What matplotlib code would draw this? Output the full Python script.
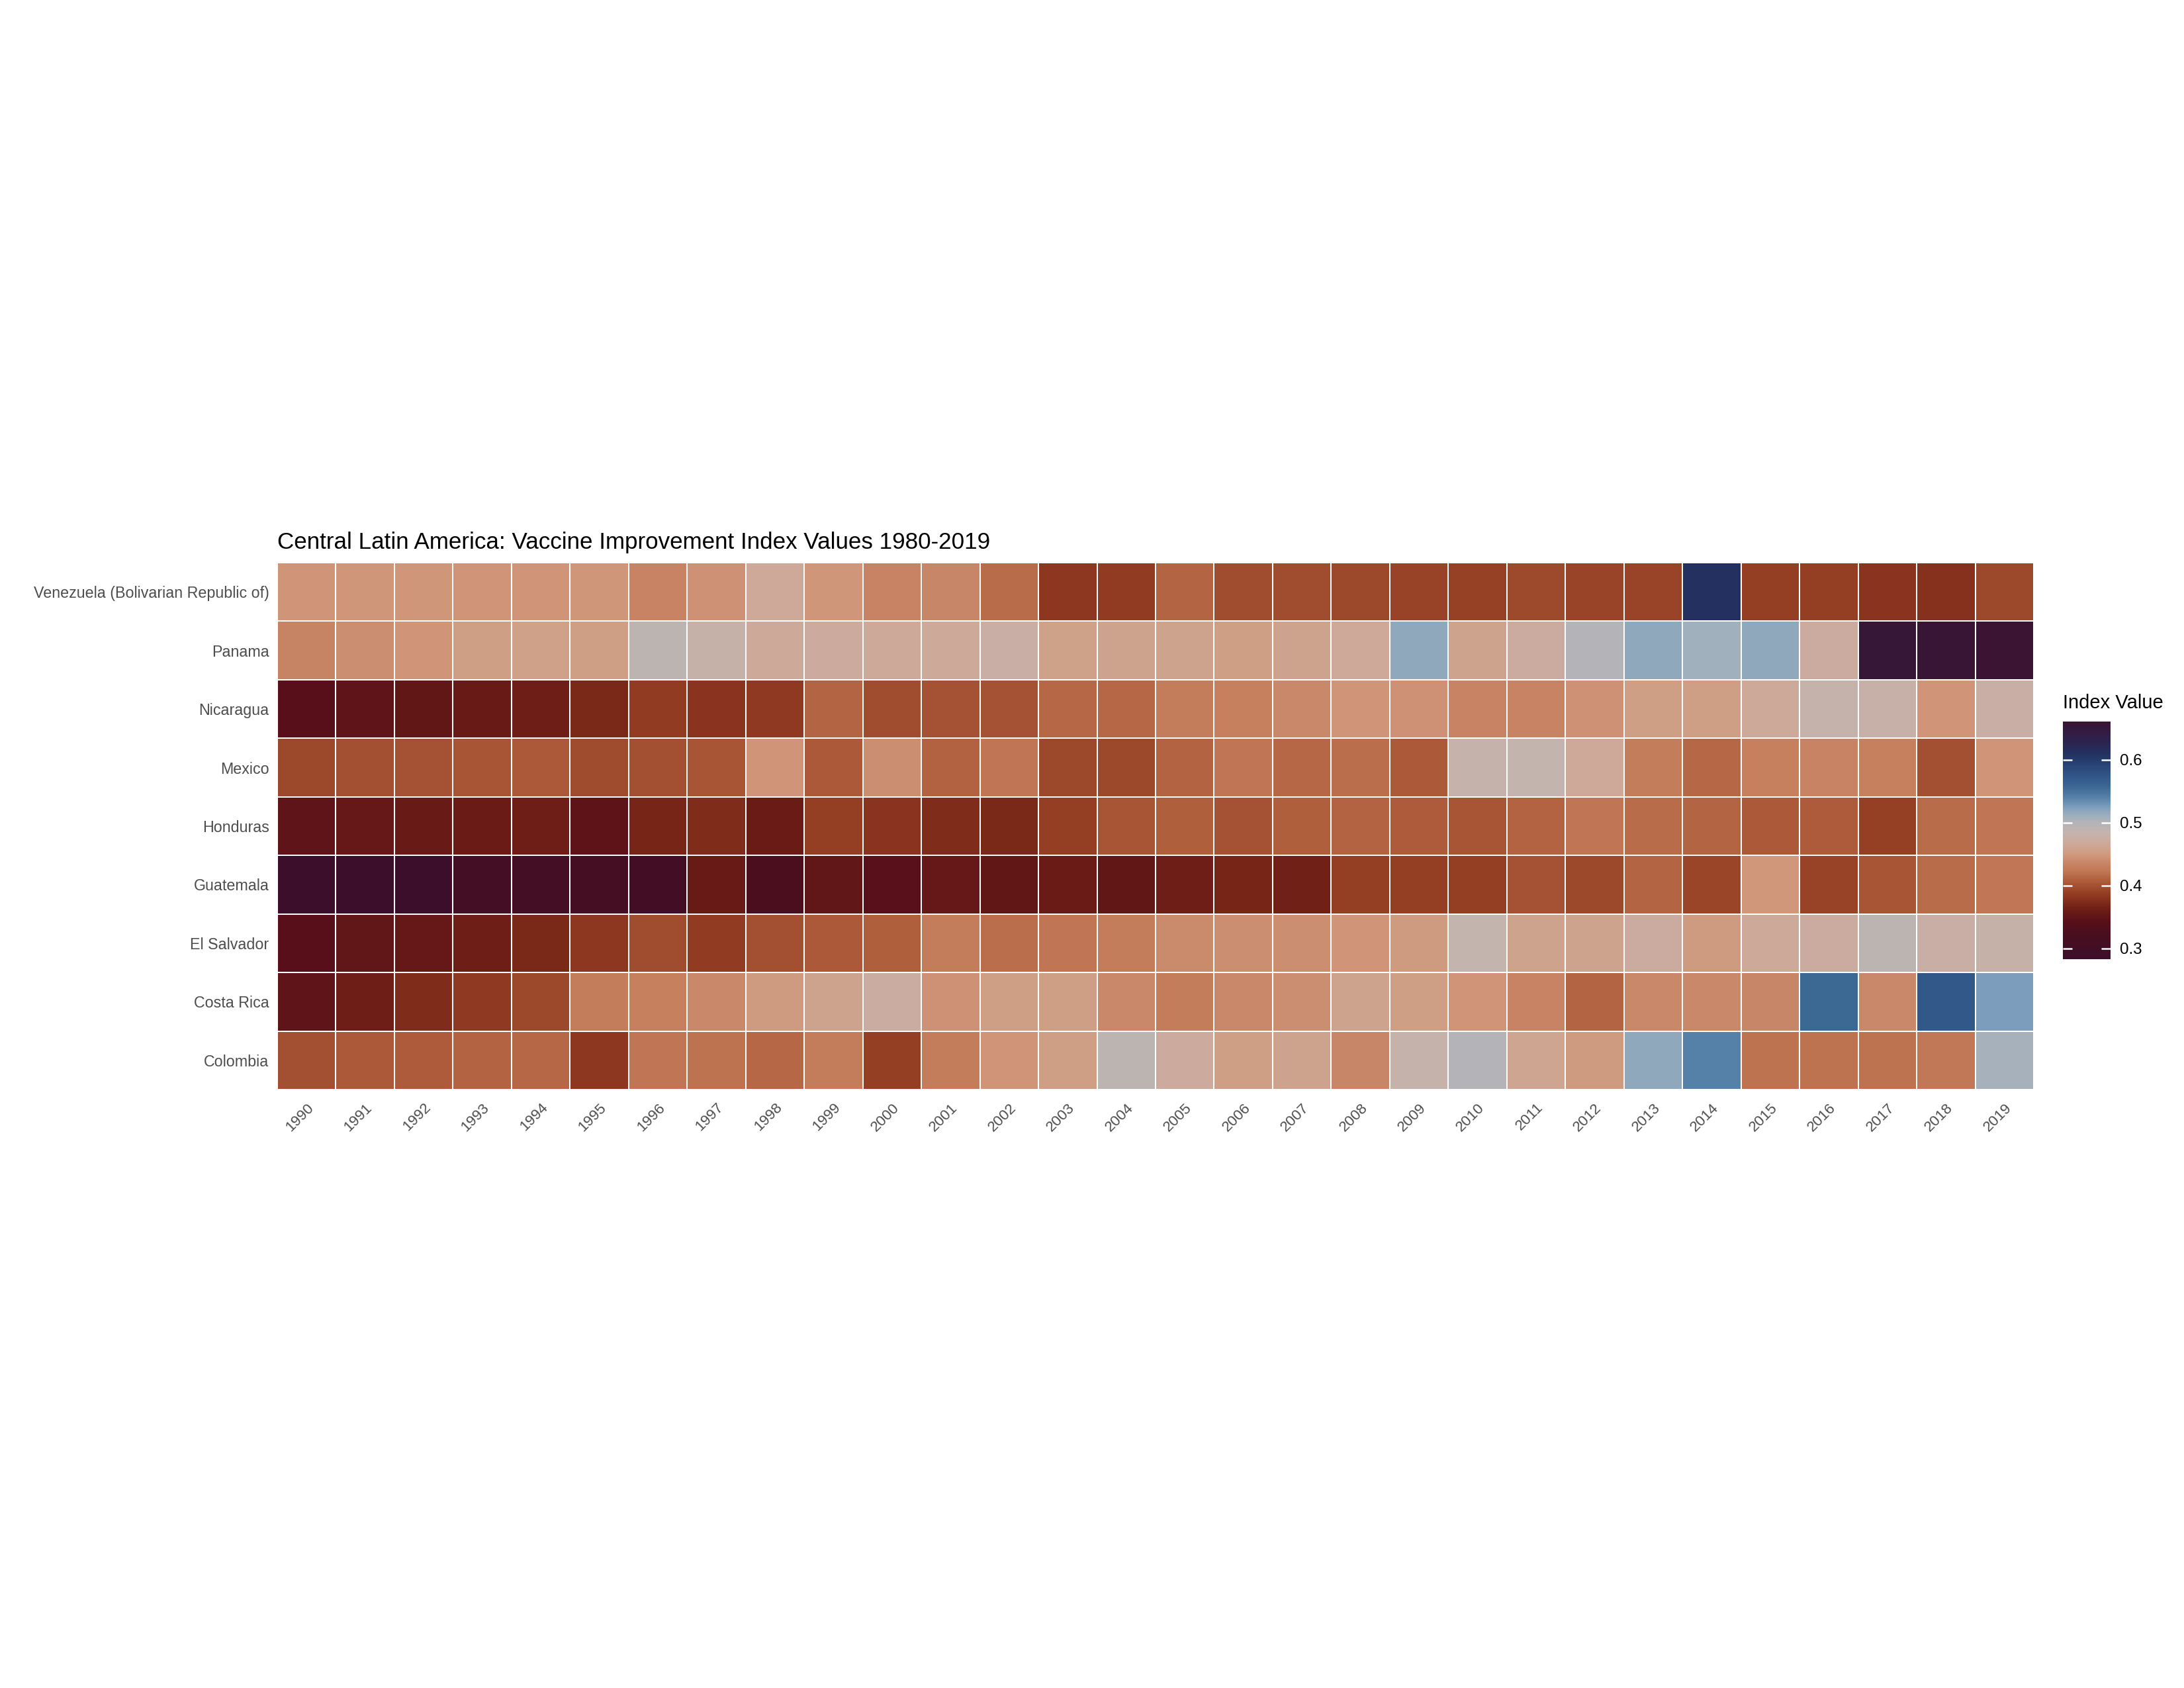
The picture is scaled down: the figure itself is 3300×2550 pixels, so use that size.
import numpy as np
import matplotlib
matplotlib.use("Agg")
import matplotlib.pyplot as plt
from matplotlib.colors import LinearSegmentedColormap

plt.rcParams['font.family'] = ['Liberation Sans', 'DejaVu Sans']

years = list(range(1990, 2020))

# countries listed bottom to top, as drawn
countries = ["Colombia", "Costa Rica", "El Salvador", "Guatemala", "Honduras",
             "Mexico", "Nicaragua", "Panama", "Venezuela (Bolivarian Republic of)"]

colombia = [0.399, 0.405, 0.407, 0.411, 0.414, 0.382, 0.422, 0.420, 0.414, 0.428,
            0.388, 0.428, 0.446, 0.454, 0.490, 0.470, 0.454, 0.459, 0.436, 0.482,
            0.500, 0.462, 0.451, 0.518, 0.540, 0.420, 0.420, 0.420, 0.424, 0.506]
costa_rica = [0.349, 0.362, 0.374, 0.384, 0.394, 0.428, 0.431, 0.438, 0.451, 0.460,
              0.473, 0.444, 0.454, 0.454, 0.438, 0.428, 0.438, 0.442, 0.460, 0.455,
              0.446, 0.434, 0.412, 0.438, 0.438, 0.436, 0.557, 0.438, 0.572, 0.525]
el_salvador = [0.342, 0.351, 0.355, 0.362, 0.371, 0.382, 0.397, 0.386, 0.399, 0.405,
               0.409, 0.428, 0.418, 0.422, 0.428, 0.440, 0.442, 0.442, 0.446, 0.451,
               0.485, 0.460, 0.460, 0.472, 0.451, 0.468, 0.472, 0.490, 0.476, 0.480]
guatemala = [0.283, 0.287, 0.287, 0.305, 0.305, 0.307, 0.303, 0.357, 0.325, 0.351,
             0.343, 0.355, 0.353, 0.359, 0.353, 0.362, 0.368, 0.364, 0.388, 0.388,
             0.388, 0.401, 0.394, 0.412, 0.393, 0.448, 0.391, 0.403, 0.416, 0.423]
honduras = [0.349, 0.355, 0.357, 0.359, 0.362, 0.348, 0.368, 0.374, 0.359, 0.388,
            0.380, 0.374, 0.371, 0.388, 0.403, 0.409, 0.401, 0.409, 0.411, 0.407,
            0.403, 0.411, 0.422, 0.416, 0.412, 0.405, 0.407, 0.389, 0.416, 0.422]
mexico = [0.394, 0.399, 0.401, 0.403, 0.405, 0.396, 0.399, 0.403, 0.446, 0.405,
          0.442, 0.410, 0.422, 0.394, 0.394, 0.411, 0.422, 0.414, 0.418, 0.405,
          0.482, 0.485, 0.466, 0.428, 0.414, 0.431, 0.434, 0.431, 0.399, 0.446]
nicaragua = [0.342, 0.349, 0.353, 0.357, 0.362, 0.371, 0.386, 0.380, 0.384, 0.412,
             0.397, 0.401, 0.401, 0.414, 0.414, 0.428, 0.431, 0.438, 0.446, 0.444,
             0.434, 0.434, 0.444, 0.455, 0.454, 0.468, 0.482, 0.478, 0.446, 0.476]
panama = [0.435, 0.442, 0.446, 0.455, 0.456, 0.454, 0.490, 0.480, 0.468, 0.470,
          0.468, 0.467, 0.476, 0.457, 0.460, 0.459, 0.455, 0.460, 0.466, 0.518,
          0.460, 0.472, 0.500, 0.518, 0.510, 0.518, 0.472, 0.655, 0.658, 0.661]
venezuela = [0.446, 0.447, 0.447, 0.446, 0.446, 0.447, 0.434, 0.444, 0.466, 0.447,
             0.434, 0.436, 0.416, 0.382, 0.386, 0.412, 0.397, 0.397, 0.394, 0.391,
             0.390, 0.395, 0.392, 0.392, 0.612, 0.388, 0.388, 0.380, 0.378, 0.394]

# colour scale
scale_values = [0.283, 0.305, 0.325, 0.342, 0.349, 0.357, 0.362, 0.371, 0.380, 0.388,
                0.394, 0.401, 0.407, 0.414, 0.422, 0.431, 0.438, 0.446, 0.455, 0.466,
                0.476, 0.485, 0.490, 0.500, 0.510, 0.518, 0.525, 0.540, 0.557, 0.572,
                0.600, 0.612, 0.630, 0.661]
scale_colors = ["#3c0e2c", "#440e24", "#4a0e1e", "#580f1a", "#5e1418", "#681a16",
                "#6e1e16", "#7a2818", "#8a3420", "#943e24", "#9c482a", "#a65234",
                "#ae5c3a", "#b66846", "#c07654", "#c6805e", "#c8886a", "#d09478",
                "#cea086", "#cea898", "#c8aea4", "#c4b4ae", "#bcb4b0", "#b4b4b8",
                "#a0b0bc", "#90a8bc", "#7c9ebc", "#5682a8", "#3c6894", "#32588a",
                "#243c6c", "#24305f", "#2c2250", "#3a1432"]

vmin, vmax = scale_values[0], scale_values[-1]
pos = [(v - vmin) / (vmax - vmin) for v in scale_values]
cmap = LinearSegmentedColormap.from_list("idx", list(zip(pos, scale_colors)), N=512)

data = np.array([colombia, costa_rica, el_salvador, guatemala, honduras,
                 mexico, nicaragua, panama, venezuela])

fig = plt.figure(figsize=(11, 8.5), dpi=300)
ax = fig.add_axes([419 / 3300, 1 - 1646 / 2550, (3073 - 419) / 3300, (1646 - 850) / 2550])

x_edges = np.arange(len(years) + 1) - 0.5
y_edges = np.arange(len(countries) + 1) - 0.5
mesh = ax.pcolormesh(x_edges, y_edges, data, cmap=cmap, vmin=vmin, vmax=vmax,
                     edgecolors="white", linewidth=0.45)

ax.set_xlim(-0.5, len(years) - 0.5)
ax.set_ylim(-0.5, len(countries) - 0.5)
for s in ax.spines.values():
    s.set_visible(False)

ax.set_xticks(range(len(years)))
ax.set_xticklabels([str(y) for y in years], rotation=45, ha="right", va="top",
                   rotation_mode="anchor")
ax.set_yticks(range(len(countries)))
ax.set_yticklabels(countries)
ax.tick_params(axis="both", length=0, labelcolor="#4d4d4d")
ax.tick_params(axis="x", pad=4, labelsize=5.4)
ax.tick_params(axis="y", pad=3, labelsize=5.6)

ax.set_title("Central Latin America: Vaccine Improvement Index Values 1980-2019",
             loc="left", fontsize=8.4, color="black", pad=5)

# legend bar
cax = fig.add_axes([3117 / 3300, 1 - 1449 / 2550, 72 / 3300, 359 / 2550])
cb = fig.colorbar(mesh, cax=cax, ticks=[0.3, 0.4, 0.5, 0.6])
cb.outline.set_visible(False)
cax.yaxis.set_ticks_position("both")
cax.tick_params(which="both", direction="in", length=3.4, width=0.6, color="white",
                labelleft=False, labelright=True, labelsize=5.8, labelcolor="black", pad=3.4)
cax.set_yticklabels(["0.3", "0.4", "0.5", "0.6"])
fig.text(3117 / 3300, 1 - 1070 / 2550, "Index Value", fontsize=7.0, color="black",
         ha="left", va="baseline")

fig.savefig("out.png", dpi=300, facecolor="white")
